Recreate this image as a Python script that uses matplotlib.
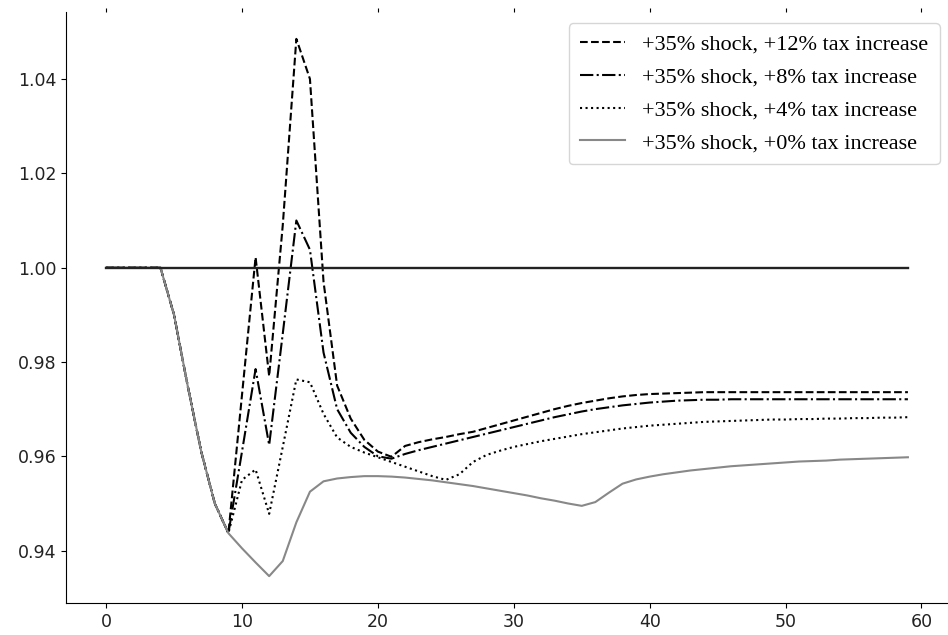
import numpy as np
import matplotlib.pyplot as plt

# periods 0..59
t = np.arange(60)

# +35% shock, +0% tax increase
tax0 = [1.0, 1.0, 1.0, 1.0, 1.0, 0.990, 0.975, 0.961, 0.950, 0.9437,
        0.9405, 0.9375, 0.9346, 0.9378, 0.946, 0.9525, 0.9547, 0.9553, 0.9556, 0.9558,
        0.9558, 0.9557, 0.9555, 0.9552, 0.9549, 0.9545, 0.9541, 0.9537, 0.9532, 0.9527,
        0.9522, 0.9517, 0.9511, 0.9506, 0.9500, 0.9495, 0.9503, 0.9523, 0.9542, 0.9551,
        0.9557, 0.9562, 0.9566, 0.9570, 0.9573, 0.9576, 0.9579, 0.9581, 0.9583, 0.9585,
        0.9587, 0.9589, 0.9590, 0.9591, 0.9593, 0.9594, 0.9595, 0.9596, 0.9597, 0.9598]

# +35% shock, +4% tax increase
tax4 = [1.0, 1.0, 1.0, 1.0, 1.0, 0.990, 0.975, 0.961, 0.950, 0.9437,
        0.9550, 0.9572, 0.9478, 0.9620, 0.9763, 0.9757, 0.9690, 0.9640, 0.9620, 0.9608,
        0.9598, 0.9588, 0.9578, 0.9568, 0.9558, 0.9550, 0.9562, 0.9588, 0.9603, 0.9612,
        0.9620, 0.9626, 0.9632, 0.9637, 0.9642, 0.9647, 0.9651, 0.9655, 0.9659, 0.9662,
        0.9665, 0.9667, 0.9669, 0.9671, 0.9673, 0.9674, 0.9675, 0.9676, 0.9677, 0.9678,
        0.9678, 0.9679, 0.9679, 0.9680, 0.9680, 0.9681, 0.9681, 0.9682, 0.9682, 0.9683]

# +35% shock, +8% tax increase
tax8 = [1.0, 1.0, 1.0, 1.0, 1.0, 0.990, 0.975, 0.961, 0.950, 0.9437,
        0.9610, 0.9785, 0.9624, 0.9860, 1.0100, 1.0038, 0.9820, 0.9700, 0.9650, 0.9620,
        0.9600, 0.9595, 0.9605, 0.9613, 0.9620, 0.9627, 0.9634, 0.9641, 0.9648, 0.9655,
        0.9662, 0.9669, 0.9676, 0.9683, 0.9689, 0.9695, 0.9700, 0.9704, 0.9708, 0.9711,
        0.9714, 0.9716, 0.9718, 0.9719, 0.9720, 0.9720, 0.9721, 0.9721, 0.9721, 0.9721,
        0.9721, 0.9721, 0.9721, 0.9721, 0.9721, 0.9721, 0.9721, 0.9721, 0.9721, 0.9721]

# +35% shock, +12% tax increase
tax12 = [1.0, 1.0, 1.0, 1.0, 1.0, 0.990, 0.975, 0.961, 0.950, 0.9437,
         0.9730, 1.0022, 0.9770, 1.0090, 1.0485, 1.0400, 0.9970, 0.9750, 0.9680, 0.9635,
         0.9610, 0.9599, 0.9622, 0.9630, 0.9636, 0.9641, 0.9647, 0.9652, 0.9660, 0.9668,
         0.9676, 0.9684, 0.9692, 0.9700, 0.9707, 0.9713, 0.9718, 0.9723, 0.9727, 0.9730,
         0.9732, 0.9733, 0.9734, 0.9735, 0.9736, 0.9736, 0.9736, 0.9736, 0.9736, 0.9736,
         0.9736, 0.9736, 0.9736, 0.9736, 0.9736, 0.9736, 0.9736, 0.9736, 0.9736, 0.9736]

baseline = np.ones(60)

labels = ["+35% shock, +12% tax increase",
          "+35% shock, +8% tax increase",
          "+35% shock, +4% tax increase",
          "+35% shock, +0% tax increase"]

fig = plt.figure(figsize=(9.48, 6.35), dpi=100)
ax = fig.add_axes([66 / 948, 32 / 635, 882 / 948, 591 / 635])

ax.plot(t, tax12, color="black", linestyle="--", lw=1.5, label=labels[0])
ax.plot(t, tax8, color="black", linestyle="-.", lw=1.5, label=labels[1])
ax.plot(t, tax4, color="black", linestyle=":", lw=1.5, label=labels[2])
ax.plot(t, tax0, color="#888888", linestyle="-", lw=1.5, label=labels[3])
ax.plot(t, baseline, color="#222222", lw=1.7)

ax.spines["right"].set_visible(False)
ax.spines["top"].set_visible(False)
ax.set_yticks([0.94, 0.96, 0.98, 1.00, 1.02, 1.04])
ax.yaxis.set_major_formatter(plt.FormatStrFormatter("%.2f"))
ax.tick_params(labelsize=12.5, labelcolor="#222222")

# little tick marks along the top edge
top = ax.secondary_xaxis("top")
top.set_xticks([0, 10, 20, 30, 40, 50, 60])
top.tick_params(length=3, labeltop=False)
top.spines["top"].set_visible(False)

leg = ax.legend(loc="upper right", prop={"family": "Liberation Serif", "size": 16},
                bbox_to_anchor=(1.003, 1.0), borderpad=0.5, labelspacing=0.55)
leg.get_frame().set_edgecolor("#cccccc")

fig.savefig("out.png", dpi=100)
